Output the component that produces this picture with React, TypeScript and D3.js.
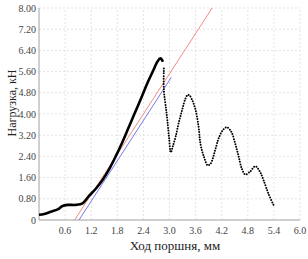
import React, { useEffect, useRef } from "react";
import * as d3 from "d3";

type Pt = [number, number];

// loading branch (solid, dense markers)
const loading: Pt[] = [
  [0, 0.2], [0.12, 0.23], [0.27, 0.31], [0.43, 0.4], [0.54, 0.53],
  [0.66, 0.57], [0.85, 0.57], [1.0, 0.63], [1.15, 0.91], [1.3, 1.17],
  [1.46, 1.51], [1.61, 1.91], [1.76, 2.39], [1.9, 2.88], [2.05, 3.45],
  [2.18, 3.95], [2.35, 4.6], [2.49, 5.16], [2.62, 5.62], [2.72, 5.97],
  [2.79, 6.1], [2.85, 5.97],
];

// unloading branch (sparse markers)
const unloading: Pt[] = [
  [2.87, 5.72], [2.87, 4.9], [2.92, 4.2], [2.95, 3.77], [2.99, 3.1],
  [3.03, 2.55], [3.08, 2.8], [3.14, 3.14], [3.21, 3.65], [3.29, 4.15],
  [3.36, 4.55], [3.42, 4.72], [3.47, 4.68], [3.52, 4.53], [3.6, 4.15],
  [3.67, 3.5], [3.71, 2.89], [3.79, 2.39], [3.88, 2.06], [3.95, 2.14],
  [4.05, 2.64], [4.13, 3.08], [4.23, 3.4], [4.32, 3.5], [4.42, 3.33],
  [4.51, 2.89], [4.59, 2.39], [4.66, 1.95], [4.74, 1.72], [4.85, 1.82],
  [4.97, 2.03], [5.08, 1.82], [5.16, 1.51], [5.27, 1.01], [5.39, 0.57],
];

// tangent lines
const redLine: Pt[] = [[0.82, 0], [3.98, 8]];
const blueLine: Pt[] = [[0.92, 0], [3.04, 5.38]];

const xTicks = [0.6, 1.2, 1.8, 2.4, 3.0, 3.6, 4.2, 4.8, 5.4, 6.0];
const yTicks = [0, 0.8, 1.6, 2.4, 3.2, 4.0, 4.8, 5.6, 6.4, 7.2, 8.0];

const xTitle = "Ход поршня, мм";
const yTitle = "Нагрузка, кН";

const W = 308;
const H = 259;
const margin = { left: 39, right: 8, top: 8, bottom: 39 };

const App: React.FC = () => {
  const svgRef = useRef<SVGSVGElement>(null);

  useEffect(() => {
    if (!svgRef.current) return;
    const svg = d3.select(svgRef.current);
    svg.selectAll("*").remove();

    const x = d3.scaleLinear().domain([0, 6]).range([margin.left, W - margin.right]);
    const y = d3.scaleLinear().domain([0, 8]).range([H - margin.bottom, margin.top]);
    const font = "'Liberation Serif', 'Times New Roman', serif";

    // grid
    const grid = svg.append("g").attr("stroke", "#dcdcdc").attr("stroke-width", 0.8)
      .attr("stroke-dasharray", "2 2");
    grid.selectAll(".gx").data(xTicks).join("line")
      .attr("x1", (d) => x(d)).attr("x2", (d) => x(d))
      .attr("y1", y(0)).attr("y2", y(8));
    grid.selectAll(".gy").data(yTicks.slice(1)).join("line")
      .attr("x1", x(0)).attr("x2", x(6))
      .attr("y1", (d) => y(d)).attr("y2", (d) => y(d));

    // axes
    svg.append("line").attr("x1", x(0)).attr("x2", x(0)).attr("y1", y(0)).attr("y2", y(8))
      .attr("stroke", "#a0a0a0").attr("stroke-width", 1);
    svg.append("line").attr("x1", x(0)).attr("x2", x(6)).attr("y1", y(0)).attr("y2", y(0))
      .attr("stroke", "#a0a0a0").attr("stroke-width", 1);

    svg.append("g").selectAll("text").data(yTicks).join("text")
      .attr("x", x(0) - 3).attr("y", (d) => y(d)).attr("dy", "0.35em")
      .attr("text-anchor", "end").attr("font-family", font).attr("font-size", 10)
      .attr("fill", "#444").text((d) => (d === 0 ? "0" : d.toFixed(2)));

    svg.append("g").selectAll("text").data(xTicks).join("text")
      .attr("x", (d) => x(d)).attr("y", y(0) + 14)
      .attr("text-anchor", "middle").attr("font-family", font).attr("font-size", 10)
      .attr("fill", "#444").text((d) => d.toFixed(1));

    svg.append("text").attr("x", 175).attr("y", H - 9)
      .attr("text-anchor", "middle").attr("font-family", font).attr("font-size", 13)
      .attr("fill", "#222").text(xTitle);

    svg.append("text")
      .attr("transform", `translate(16, 103) rotate(-90)`)
      .attr("text-anchor", "middle").attr("font-family", font).attr("font-size", 12)
      .attr("fill", "#222").text(yTitle);

    const straight = d3.line<Pt>().x((d) => x(d[0])).y((d) => y(d[1]));
    const smooth = d3.line<Pt>().x((d) => x(d[0])).y((d) => y(d[1])).curve(d3.curveCatmullRom);

    svg.append("path").attr("d", straight(redLine)).attr("fill", "none")
      .attr("stroke", "#f08070").attr("stroke-width", 0.9);
    svg.append("path").attr("d", straight(blueLine)).attr("fill", "none")
      .attr("stroke", "#6a6af0").attr("stroke-width", 0.9);

    svg.append("path").attr("d", smooth(loading)).attr("fill", "none")
      .attr("stroke", "#000").attr("stroke-width", 2.6).attr("stroke-linejoin", "round");
    svg.append("path").attr("d", smooth(unloading)).attr("fill", "none")
      .attr("stroke", "#000").attr("stroke-width", 2).attr("stroke-linecap", "round")
      .attr("stroke-dasharray", "0 2.6");
  }, []);

  return (
    <svg
      ref={svgRef}
      width={W}
      height={H}
      style={{ position: "absolute", left: 0, top: 0, background: "#fff" }}
    />
  );
};

export default App;
